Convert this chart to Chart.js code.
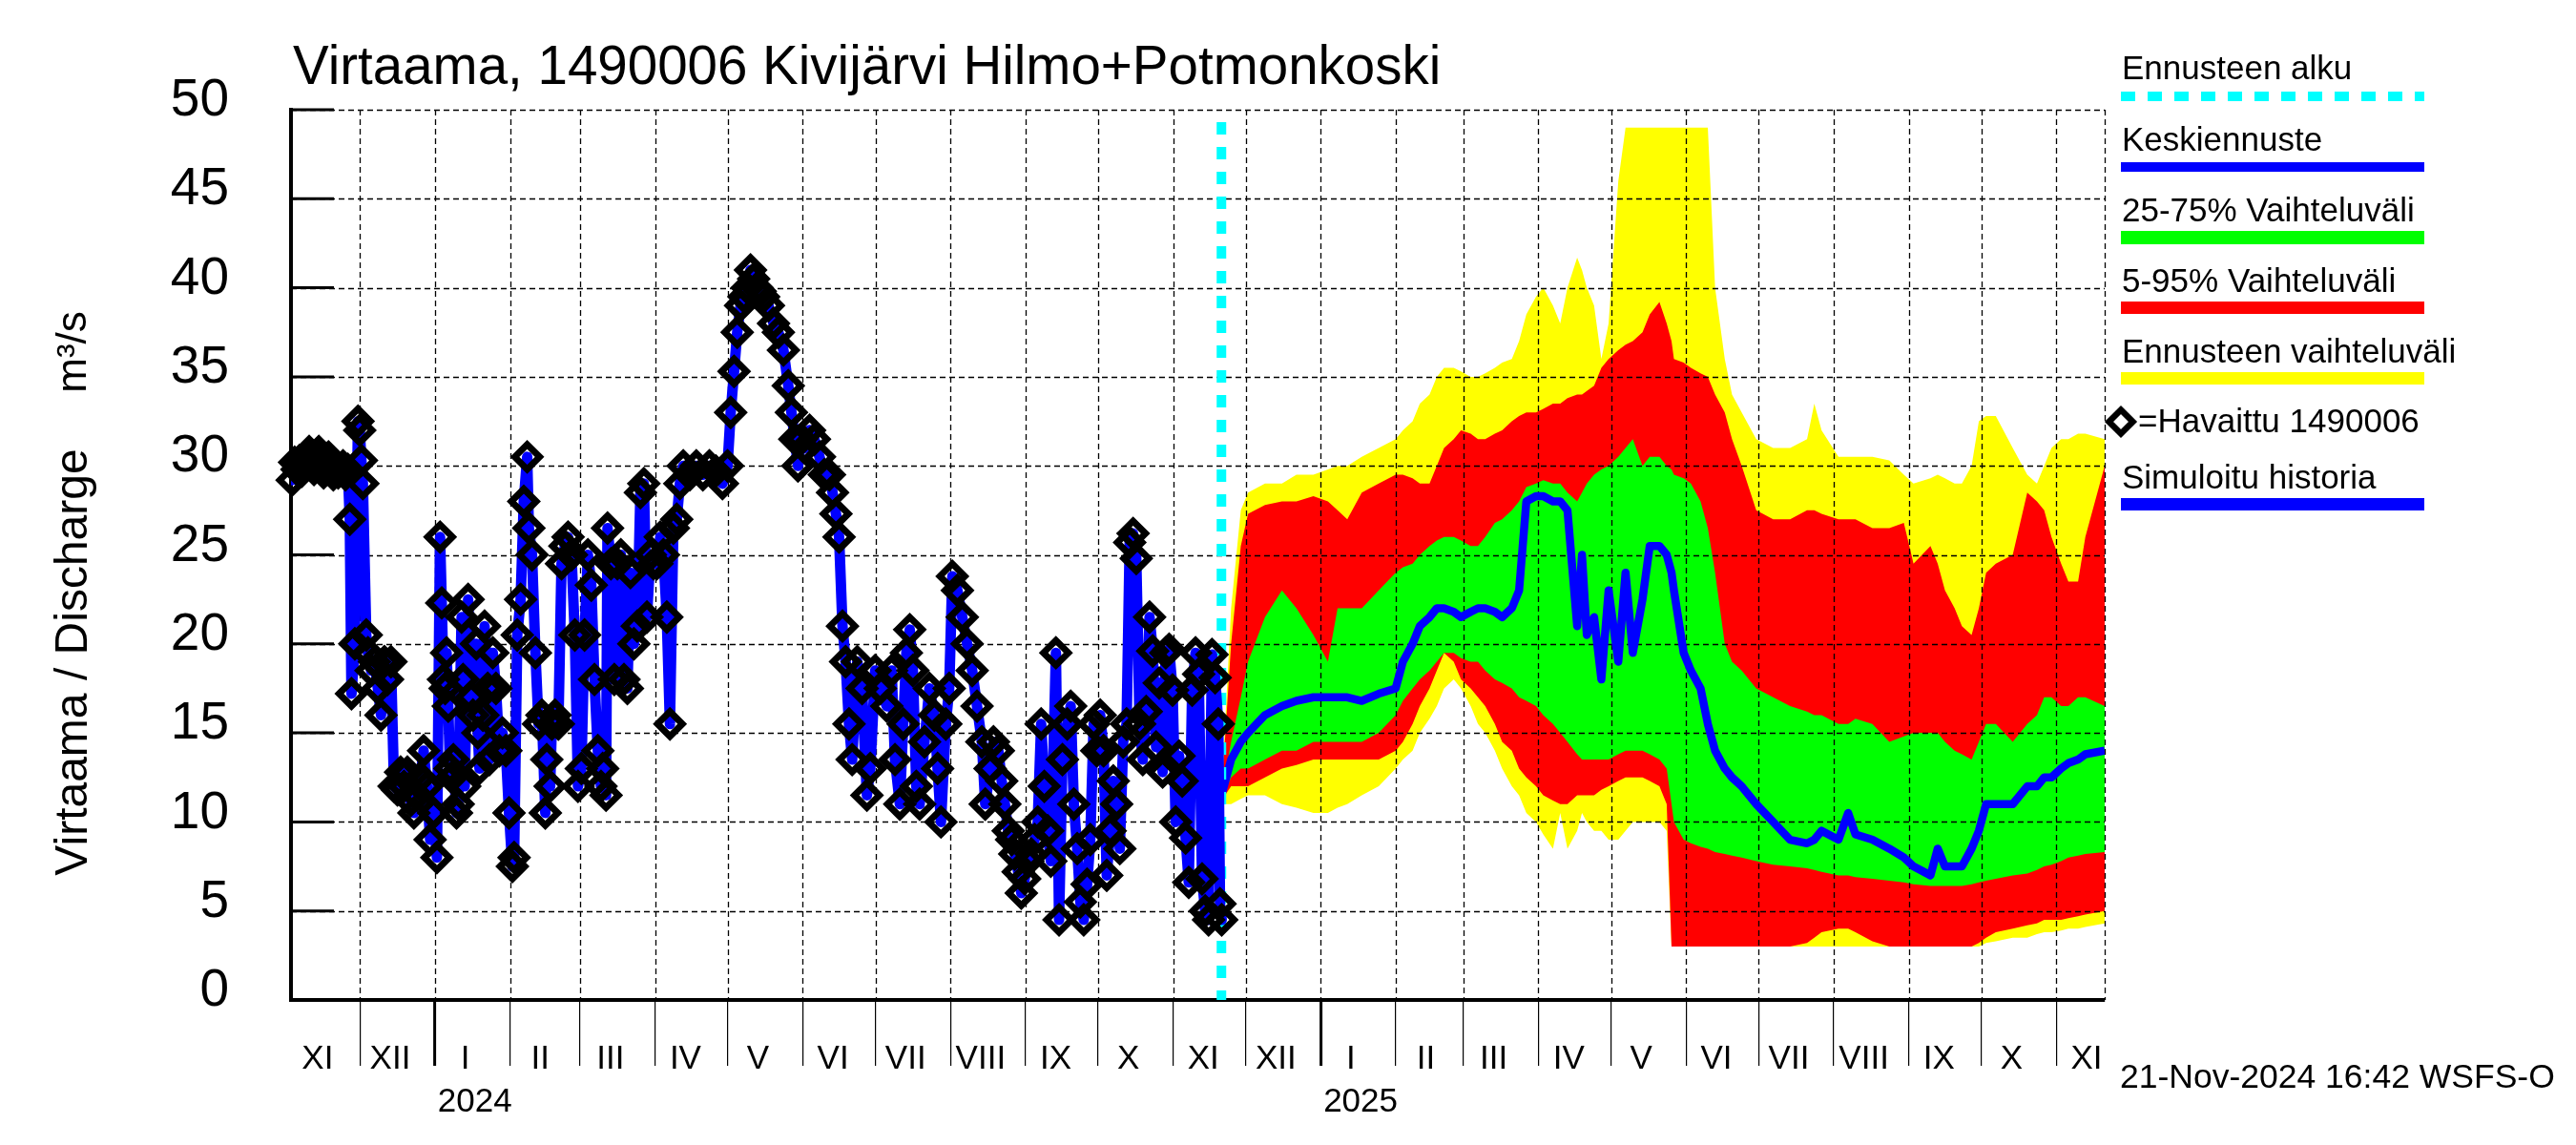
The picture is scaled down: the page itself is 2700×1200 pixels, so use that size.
<!DOCTYPE html>
<html><head><meta charset="utf-8">
<script src="https://cdn.jsdelivr.net/npm/chart.js@4.4.1/dist/chart.umd.min.js"></script>
<style>html,body{margin:0;padding:0;background:#fff;}canvas{display:block;}</style>
</head><body>
<canvas id="c" width="2700" height="1200" style="width:2700px;height:1200px"></canvas>
<script>
const FONT = '"Liberation Sans", Arial, Helvetica, sans-serif';
// x values are days since 1 Jan 2024
const monthStarts = [-61,-31,0,31,60,91,121,152,182,213,244,274,305,335,366,397,425,456,486,517,547,578,609,639,670];
const monthLabels = ['XI','XII','I','II','III','IV','V','VI','VII','VIII','IX','X','XI','XII','I','II','III','IV','V','VI','VII','VIII','IX','X','XI'];
const yearStarts = [0,366];
const yearLabels = ['2024','2025'];
const yTicks = [0,5,10,15,20,25,30,35,40,45,50];
const forecastStart = 325;
const titleText = 'Virtaama, 1490006 Kivijärvi Hilmo+Potmonkoski';
const yTitle = 'Virtaama / Discharge';
const yUnit = 'm³/s';
const stampText = '21-Nov-2024 16:42 WSFS-O';
const legendLabels = ['Ennusteen alku','Keskiennuste','25-75% Vaihteluväli','5-95% Vaihteluväli','Ennusteen vaihteluväli','=Havaittu 1490006','Simuloitu historia'];

const obsDays = [-59,-58,-57,-56,-55,-54,-53,-52,-51,-50,-49,-48,-47,-46,-45,-44,-43,-42,-41,-40,-39,-38,-37,-36,
-35.2,-34.5,-33.1,-31.8,-31.1,-30.4,-29.8,-28.4,-27.7,-26.4,-25,-23.6,-22.3,-20.9,-19.6,-18.2,-16.9,-15.5,-14.2,-12.8,-11.4,-10.1,-8.7,-7.4,-6,-4.7,-3.3,-2,-0.6,0.8,
2.1,2.8,3.5,4.2,4.8,5.5,6.2,6.9,7.6,8.9,9.6,11,11.6,12.3,13.7,15,15.7,17.1,17.7,18.4,19.8,20.5,21.8,22.5,23.9,25.2,26.6,27.9,29.3,30.6,32,32.7,
34,35.4,36.7,38.1,38.8,40.1,41.5,42.8,44.2,45.6,46.2,47.6,48.3,49.6,51,52.3,53.7,55,56.4,57.8,59.1,60.5,61.8,63.2,64.6,65.9,67.3,68.6,69.3,70.7,
71.3,72.7,74.1,75.4,76.8,78.1,79.5,80.8,82.2,83.6,84.9,86.3,87.6,89,90.3,91.7,93.1,94.4,95.8,97.1,98.5,99.9,101.2,102.6,105.3,108,110.7,113.4,116.1,118.8,120.9,
122.2,123.6,124.9,126.3,127.7,129,130.4,131.7,133.1,134.4,135.8,137.8,139.9,141.9,144,146,147.3,148.7,150,151.4,152.8,154.8,156.8,158.9,160.9,163,164.3,165.7,167,
168.4,169.7,171.1,172.4,174.5,176.5,178.5,179.9,181.9,184,186.7,188.7,190.1,192.1,193.5,194.8,196.2,197.5,198.9,200.3,202.3,204.3,206.4,207.7,209.1,211.1,212.5,
213.8,215.9,217.9,219.9,222,224,226,227.4,229.4,230.8,232.8,234.2,235.5,236.9,238.3,239.6,241,242.3,243.7,245,246.4,247.8,249.1,250.5,251.8,253.2,254.5,
256.6,257.9,259.3,261.3,262.7,264,265.4,266.7,268.1,269.5,270.8,272.2,273.5,274.9,276.3,277.6,279,280.3,281.7,283,
284.4,285.8,287.1,288.5,289.8,291.2,292.5,293.9,295.3,296.6,298,299.3,300.7,302,303.4,304.8,306.1,307.5,308.8,310.2,311.5,312.9,314.3,315.6,317,318.3,319.7,321.1,322.4,323.7,324.4,325.1];
const obsValues = [29.2,30.2,29.8,30.3,29.7,30.0,30.5,30.8,30.2,29.8,30.5,30.8,30.0,29.6,30.2,30.5,29.8,29.5,30.0,29.6,29.8,30.0,29.5,29.8,
27,17.2,20,32.5,32,30.3,29,20.5,19.5,18.5,19,17.5,16,19,18,19,12,11.8,12.8,12,12.8,11.2,10.5,11.5,12.5,14,12,9,10.5,8,
26,22.3,18,17.5,19.5,16.5,13,12.5,13.5,10.5,11,21.5,18,12,22.5,17,16,20,15,13,16,21,17.5,13.5,19.5,17.5,14,15,14,10.5,7.5,8,
20.5,22.5,28,30.5,26.5,25,19.5,15.5,16,10.5,13.5,12,15.5,16,15.5,24.5,25.5,26,25,20.5,12,13,20.5,25,23.3,18,14,12,13,11.5,
26.5,24.5,18,24.5,25,18,17.5,24,20,21,28.5,29,21.5,25,24.5,24.5,26,25,21.5,15.5,26.5,27,29,30,29.5,30,29.5,30,29.7,29,30,
33,35.3,37.5,39,39.5,40,41,40.5,40,39.8,39.5,39,38,37.5,36.5,34.5,33,31.5,30,31.5,31,32,31.5,30.5,29.5,29.5,28.5,27.3,26,
21,19,15.5,13.5,19,17.5,11.5,13,18.5,17.5,16.5,18.5,13.5,11,15.5,19.5,20.8,18.5,12,11,14.5,17.5,16,13,10,15.5,17.5,
23.8,23,21.5,20,18.5,16.5,14.5,11,13,14.5,14,12.3,11,9.5,9,8.2,7.2,6,6.8,7.8,8.2,9,10,15.5,12,9.5,7.8,
19.5,4.5,13.5,15.5,16.5,11,8.5,5.5,4.5,6.5,9,15.5,14,16,14,7,9.5,12.3,11,8.5,
14.5,15.5,25.7,26.2,24.8,15.5,13.5,16.2,21.5,19.6,14.2,17.8,12.8,19.5,19.7,17.4,10,13.7,12.3,9.1,6.6,17.4,19.5,18.3,6.8,5,4.5,19.4,18.1,15.5,5.4,4.5];

const fcDays = [325,329,333,336,343,350,356,363,369,373,377,383,390,397,400,404,407,411,414,417,
421,424,428,431,434,438,441,445,448,451,455,458,462,465,468,472,474,476,479,482,
485,489,492,495,499,502,506,509,511,512,516,519,523,526,529,533,536,540,546,553,
560,567,570,573,580,584,587,594,601,607,611,618,621,624,628,631,635,638,641,645,
652,658,662,665,668,672,675,679,682,690];
const fcMax = [11.5,22,27.5,28.5,29,29,29.5,29.5,29.8,30, 30,30.5,31,31.5,32,32.5,33.5,34,35,35.5,
35.5,35.3,35,35,35.2,35.5,35.8,36,37,38.5, 39.5,40,39,38,40,41.7,41,40,39,36,
38,46,49,49,49,49,49,49,49,49, 49,49,49,49,40,36,34,33,31.5,31,
31,31.5,33.5,32,30.5,30.5,30.5,30.5,30.3,29.5, 29,29.3,29.5,29.3,29,29,30,32.5,32.8,32.8,
31,29.5,29,30,31,31.5,31.5,31.8,31.8,31.5];
const fc95 = [11.5,20,25.5,27.3,27.8,28,28,28.3,28,27.5, 27,28.5,29,29.5,29.5,29.3,29,29,30,31,
31.5,32,31.8,31.5,31.5,31.8,32,32.5,32.8,33, 33,33.2,33.5,33.5,33.8,34,34,34.2,34.5,35.5,
36,36.5,36.8,37,37.5,38.5,39.2,38,37,36, 35.8,35.5,35.2,35,34,33,31.5,30,27.5,27,
27,27.5,27.5,27.3,27,27,27,26.5,26.5,26.8, 24.5,25.5,24.5,23,22,21,20.5,22,24,24.5,
25,28.5,28,27.5,26,24.5,23.5,23.5,26,30];
const fc75 = [11.5,14.5,17,19,21.5,23,22,20.5,19,22, 22,22,23,24,24.3,24.5,25,25.5,25.8,26,
26,25.8,25.5,25.5,26,26.8,27,27.5,28,28.8, 29,29.2,29,29,28.5,28,28.5,29,29.5,29.8,
30,30.5,31,31.5,30,30.5,30.5,30,29.8,29.5, 29.3,29,28,26.5,24,20,19,18.5,17.5,17,
16.5,16.2,16,16,15.5,15.5,15.8,15.5,14.5,14.8, 15,15,15,14.5,14,13.8,13.5,14.5,15.5,15.5,
14.5,15.5,16,17,17,16.5,16.5,17,17,16.5];
const fcMedian = [11.5,13.5,14.5,15,16,16.5,16.8,17,17,17, 17,16.8,17.2,17.5,19,20,21,21.5,22,22,
21.8,21.5,21.8,22,22,21.8,21.5,22,23,28, 28.3,28.3,28,28,27.5,21,25,20.5,21.5,18,
23,19,24,19.5,22.5,25.5,25.5,25,24,23, 19.5,18.5,17.5,15.5,14,13,12.5,12,11,10,
9,8.8,9,9.5,9,10.5,9.3,9,8.5,8, 7.5,7,8.5,7.5,7.5,7.5,8.5,9.5,11,11,
11,12,12,12.5,12.5,13,13.3,13.5,13.8,14];
const fc25 = [11.3,12.5,13,13,13.5,14,14,14.5,14.5,14.5, 14.5,14.5,15,16,16.8,17.5,18,18.5,19,19.5,
19.5,19.2,19,19,18.5,18,17.8,17.5,17,16.8, 16.5,16,15.5,15,14.5,13.8,13.5,13.5,13.5,13.5,
13.5,13.8,14,14,14,13.8,13.5,13,11,10, 9,8.8,8.6,8.5,8.3,8.2,8.1,8,7.8,7.6,
7.5,7.4,7.3,7.2,7,7,6.9,6.8,6.7,6.6, 6.5,6.4,6.4,6.4,6.4,6.4,6.5,6.6,6.7,6.8,
7,7.1,7.3,7.5,7.6,7.8,8,8.1,8.2,8.3];
const fc5 = [11.2,12,12,12,12.5,13,13.2,13.5,13.5,13.5, 13.5,13.5,13.5,14,14.5,15.5,16.5,17.5,18.5,19.5,
19,18,17.5,17,16.5,15.5,14.5,14,13,12.5, 12,11.5,11.2,11,11,11.5,11.5,11.5,11.5,11.8,
12,12.3,12.5,12.5,12.5,12.3,12,11,3,3, 3,3,3,3,3,3,3,3,3,3,
3,3.2,3.5,3.8,4,4,3.8,3.3,3,3, 3,3,3,3,3,3,3,3.2,3.5,3.8,
4,4.2,4.3,4.5,4.5,4.5,4.6,4.7,4.8,5];
const fcMin = [11,11,11.3,11.5,11.5,11,10.8,10.5,10.5,10.8, 11,11.5,12,13,13.5,14,15,15.8,16.5,17.5,
18,17.5,16.5,15.5,15,14,13,12,11.5,10.5, 10,9.3,8.5,10.5,8.5,9.5,10.5,10,9.5,9.5,
9,9,9.5,10,10,10,10,9.5,3,3, 3,3,3,3,3,3,3,3,3,3,
3,3,3,3,3,3,3,3,3,3, 3,3,3,3,3,3,3,3,3.2,3.3,
3.5,3.5,3.7,3.8,3.8,3.9,4,4,4.1,4.3];

const pts = (xs, ys) => xs.map((x, i) => ({x: x, y: ys[i]}));
const NONE = 'rgba(0,0,0,0)';
const band = (ys, color, fill) => ({data: pts(fcDays, ys), borderWidth: 0, borderColor: NONE,
  backgroundColor: color || NONE, fill: fill || false, pointRadius: 0});

function diamond(ctx, x, y, r) {
  ctx.beginPath();
  ctx.moveTo(x, y - r); ctx.lineTo(x + r, y); ctx.lineTo(x, y + r); ctx.lineTo(x - r, y); ctx.closePath();
}

const deco = {
  id: 'deco',
  beforeDraw(chart) {
    const ctx = chart.ctx;
    ctx.save(); ctx.fillStyle = '#fff'; ctx.fillRect(0, 0, chart.width, chart.height); ctx.restore();
  },
  afterDatasetDraw(chart, args) {
    if (args.index !== 4) return;
    const {ctx, chartArea: a, scales: {x, y}} = chart;
    ctx.save();
    ctx.strokeStyle = '#000'; ctx.lineWidth = 1.3; ctx.setLineDash([6, 4]);
    ctx.beginPath();
    yTicks.forEach(v => {
      if (v === 0) return;
      const py = Math.round(y.getPixelForValue(v)) + 0.5;
      ctx.moveTo(a.left, py); ctx.lineTo(a.right, py);
    });
    monthStarts.concat([x.max]).forEach(d => {
      if (d <= x.min || d > x.max) return;
      const px = Math.round(x.getPixelForValue(d)) + 0.5;
      ctx.moveTo(px, a.top); ctx.lineTo(px, a.bottom);
    });
    ctx.stroke();
    ctx.restore();
  },
  afterDraw(chart) {
    const {ctx, chartArea: a, scales: {x, y}} = chart;
    ctx.save();
    // inner y ticks
    ctx.strokeStyle = '#000'; ctx.lineWidth = 3; ctx.beginPath();
    yTicks.forEach(v => { const py = y.getPixelForValue(v); ctx.moveTo(a.left, py); ctx.lineTo(a.left + 45, py); });
    ctx.stroke();
    ctx.fillStyle = '#000';
    // title
    ctx.font = '56.5px ' + FONT; ctx.textAlign = 'left'; ctx.textBaseline = 'alphabetic';
    ctx.fillText(titleText, 307, 88);
    // y title
    ctx.save();
    ctx.font = '48px ' + FONT; ctx.textAlign = 'center'; ctx.textBaseline = 'middle';
    ctx.translate(78, 694); ctx.rotate(-Math.PI / 2); ctx.fillText(yTitle, 0, 0);
    ctx.restore();
    ctx.save();
    ctx.font = '44px ' + FONT; ctx.textAlign = 'center'; ctx.textBaseline = 'middle';
    ctx.translate(78, 369); ctx.rotate(-Math.PI / 2); ctx.fillText(yUnit, 0, 0);
    ctx.restore();
    // month labels
    ctx.font = '35px ' + FONT; ctx.textAlign = 'center'; ctx.textBaseline = 'alphabetic';
    monthStarts.forEach((d, i) => {
      const c = d + 12.5;
      if (c < x.min || c > x.max) return;
      ctx.fillText(monthLabels[i], x.getPixelForValue(c), 1120);
    });
    yearStarts.forEach((d, i) => ctx.fillText(yearLabels[i], x.getPixelForValue(d + 16.5), 1165));
    // timestamp
    ctx.font = '35.5px ' + FONT; ctx.textAlign = 'left';
    ctx.fillText(stampText, 2222, 1140);
    // legend
    const L = 2223, R = 2541;
    ctx.font = '35px ' + FONT; ctx.textAlign = 'left'; ctx.textBaseline = 'alphabetic';
    const bar = (yy, w, color, dash) => {
      ctx.save(); ctx.strokeStyle = color; ctx.lineWidth = w; ctx.setLineDash(dash || []);
      ctx.beginPath(); ctx.moveTo(L, yy); ctx.lineTo(R, yy); ctx.stroke(); ctx.restore();
    };
    ctx.fillText(legendLabels[0], 2224, 83); bar(101, 10, '#00ffff', [15, 13]);
    ctx.fillText(legendLabels[1], 2224, 158); bar(175, 10, '#0000ff');
    ctx.fillText(legendLabels[2], 2224, 232); bar(249, 14, '#00ff00');
    ctx.fillText(legendLabels[3], 2224, 306); bar(322.5, 13, '#ff0000');
    ctx.fillText(legendLabels[4], 2224, 380); bar(396.5, 13, '#ffff00');
    ctx.save(); ctx.strokeStyle = '#000'; ctx.lineWidth = 6.5; diamond(ctx, 2223, 442, 12.5); ctx.stroke(); ctx.restore();
    ctx.fillText(legendLabels[5], 2241, 453);
    ctx.fillText(legendLabels[6], 2224, 512); bar(528.5, 13, '#0000ff');
    ctx.restore();
  }
};

new Chart(document.getElementById('c'), {
  type: 'line',
  data: {datasets: [
    {label: 'Havaittu', data: pts(obsDays, obsValues), showLine: false, pointStyle: 'rectRot',
     pointRadius: 13, pointBorderWidth: 7, pointBorderColor: '#000', pointBackgroundColor: NONE, clip: 25},
    {label: 'Simuloitu historia', data: pts(obsDays, obsValues), borderColor: '#0000ff', borderWidth: 11,
     borderJoinStyle: 'round', borderCapStyle: 'round', pointRadius: 0, fill: false},
    {label: 'Ennusteen alku', data: [{x: forecastStart, y: 50}, {x: forecastStart, y: 0}], borderColor: '#00ffff',
     borderWidth: 10, borderDash: [13, 13], borderDashOffset: 13, pointRadius: 0, fill: false},
    {label: 'Keskiennuste', data: pts(fcDays, fcMedian), borderColor: '#0000ff', borderWidth: 8.5,
     borderJoinStyle: 'round', pointRadius: 0, fill: false},
    band(fc75, '#00ff00', '+1'),
    band(fc25),
    band(fc95, '#ff0000', '+1'),
    band(fc5),
    band(fcMax, '#ffff00', '+1'),
    band(fcMin)
  ]},
  options: {
    responsive: false, animation: false, devicePixelRatio: 1,
    layout: {padding: {left: 0, top: 115, right: 494, bottom: 0}},
    plugins: {legend: {display: false}, tooltip: {enabled: false}, title: {display: false}},
    elements: {line: {tension: 0}, point: {radius: 0}},
    scales: {
      x: {type: 'linear', min: -59.5, max: 690,
        afterBuildTicks: s => { s.ticks = monthStarts.filter(d => d > s.min && d < s.max).map(v => ({value: v})); },
        afterFit: s => { s.height = 152; },
        grid: {drawOnChartArea: false, drawTicks: true, tickLength: 69, color: '#000', tickColor: '#000',
          tickWidth: c => (c.tick && yearStarts.includes(c.tick.value)) ? 3 : 1.2, lineWidth: 1.2},
        border: {display: true, color: '#000', width: 4},
        ticks: {callback: () => '', autoSkip: false, maxRotation: 0, font: {size: 10}}},
      y: {min: 0, max: 50,
        afterBuildTicks: s => { s.ticks = yTicks.map(v => ({value: v})); },
        afterFit: s => { s.width = 305; },
        ticks: {font: {family: FONT, size: 55}, color: '#000', padding: 65, labelOffset: -9, callback: v => String(v)},
        grid: {drawOnChartArea: false, drawTicks: false},
        border: {display: true, color: '#000', width: 4}}
    }
  },
  plugins: [deco]
});
</script>
</body></html>
